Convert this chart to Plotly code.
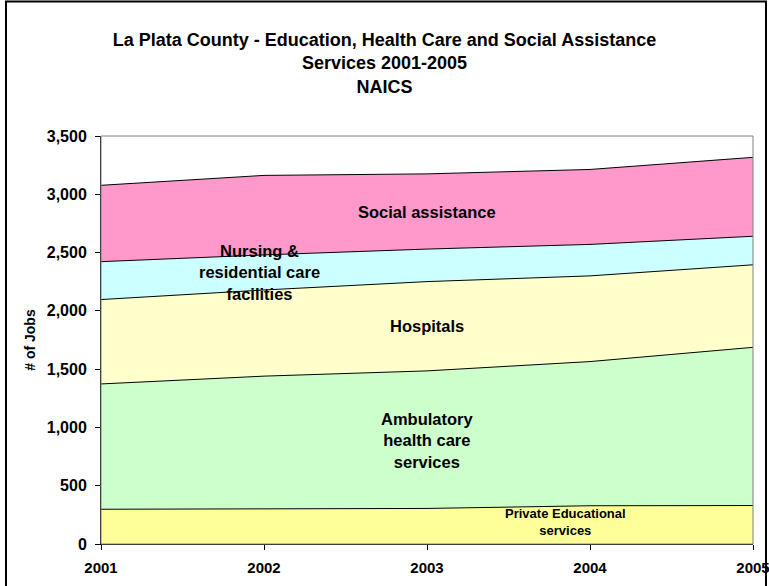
import plotly.graph_objects as go

# Jobs by sector, La Plata County (NAICS), stacked bottom to top
years = [2001, 2002, 2003, 2004, 2005]
private_educational = [298, 300, 305, 328, 330]
ambulatory_health_care = [1075, 1140, 1180, 1237, 1357]
hospitals = [724, 739, 766, 735, 708]
nursing_residential = [325, 301, 279, 270, 245]
social_assistance = [655, 682, 645, 643, 677]

y_ticks = [0, 500, 1000, 1500, 2000, 2500, 3000, 3500]

FONT = "Liberation Sans, Arial, sans-serif"

series = [
    ("Private Educational services", private_educational, "#FFFF99"),
    ("Ambulatory health care services", ambulatory_health_care, "#CCFFCC"),
    ("Hospitals", hospitals, "#FFFFCC"),
    ("Nursing & residential care facilities", nursing_residential, "#CCFFFF"),
    ("Social assistance", social_assistance, "#FF99CC"),
]

fig = go.Figure()
for name, vals, color in series:
    fig.add_trace(go.Scatter(
        x=years, y=vals, name=name, mode="lines",
        stackgroup="jobs", fillcolor=color,
        line=dict(color="black", width=1),
        hoverinfo="x+y+name",
    ))

# Plot area box (grey) and the outer chart frame (black)
L, R, T, B = 101, 753, 136, 544
W, H = R - L, B - T


def px_x(p):
    return (p - L) / W


def px_y(p):
    return (B - p) / H


fig.add_shape(type="rect", xref="paper", yref="paper",
              x0=0, x1=1, y0=0, y1=1,
              line=dict(color="#808080", width=1), layer="above")
fig.add_shape(type="rect", xref="paper", yref="paper",
              x0=px_x(6), x1=px_x(766), y0=px_y(620), y1=px_y(1.5),
              line=dict(color="black", width=2), layer="above")

labels = [
    ("Social assistance", 2003, 2848, 16.5),
    ("Nursing &<br>residential care<br>facilities", 2001.97, 2333, 16.5),
    ("Hospitals", 2003, 1870, 16.5),
    ("Ambulatory<br>health care<br>services", 2003, 892, 16.5),
    ("Private Educational<br>services", 2003.85, 189, 13),
]
for text, x, y, size in labels:
    fig.add_annotation(x=x, y=y, text="<b>" + text + "</b>", showarrow=False,
                       font=dict(family=FONT, size=size, color="black"),
                       align="center", xanchor="center", yanchor="middle")

fig.update_layout(
    width=769, height=586,
    margin=dict(l=L, r=769 - R, t=T, b=586 - B),
    paper_bgcolor="white", plot_bgcolor="white",
    showlegend=False,
    title=dict(
        text="<b>La Plata County - Education, Health Care and Social Assistance<br>"
             "Services 2001-2005<br>NAICS</b>",
        x=0.5, xref="container", xanchor="center",
        y=1 - 46 / 586, yref="container", yanchor="top",
        font=dict(family=FONT, size=18, color="black"),
    ),
    font=dict(family=FONT, color="black"),
)

fig.update_xaxes(
    range=[2001, 2005], tickvals=years,
    ticktext=["<b>%d</b>" % y for y in years],
    showgrid=False, zeroline=False, automargin=False,
    ticklabeloverflow="allow",
    showline=True, linecolor="black", linewidth=1,
    ticks="outside", ticklen=5, tickcolor="black",
    ticklabelstandoff=5,
    tickfont=dict(family=FONT, size=15, color="black"),
)
fig.update_yaxes(
    range=[0, 3500], tickvals=y_ticks,
    ticktext=["<b>{:,}</b>".format(v) for v in y_ticks],
    showgrid=False, zeroline=False, automargin=False,
    showline=True, linecolor="black", linewidth=1,
    ticks="outside", ticklen=5, tickcolor="black",
    ticklabelstandoff=5,
    tickfont=dict(family=FONT, size=16, color="black"),
    title=dict(text="<b># of Jobs</b>", standoff=7,
               font=dict(family=FONT, size=14, color="black")),
)

fig.write_html("out.html")
